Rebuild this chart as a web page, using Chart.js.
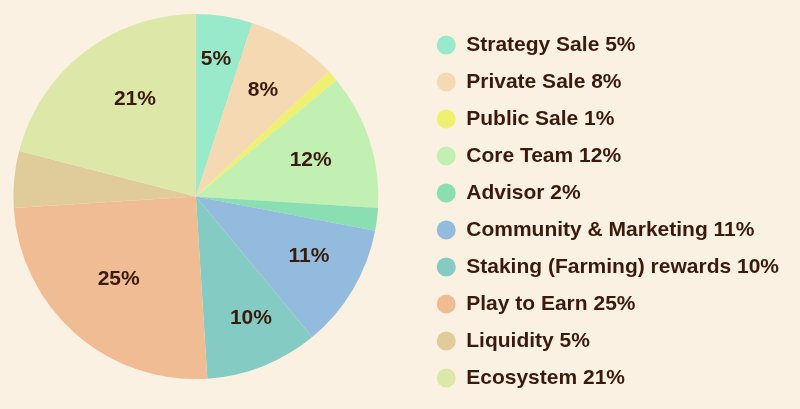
<!DOCTYPE html>
<html>
<head>
<meta charset="utf-8">
<script src="https://cdn.jsdelivr.net/npm/chart.js@4/dist/chart.umd.min.js"></script>
<style>
  html, body { margin: 0; padding: 0; background: #FBF1E2; overflow: hidden; width: 800px; height: 409px; position: relative; }
  #wrap { width: 829px; height: 421px; position: absolute; left: -29px; top: -12px; }
</style>
</head>
<body>
<div id="wrap"><canvas id="c"></canvas></div>
<script>
const categories = ['Strategy Sale', 'Private Sale', 'Public Sale', 'Core Team', 'Advisor',
  'Community & Marketing', 'Staking (Farming) rewards', 'Play to Earn', 'Liquidity', 'Ecosystem'];
const shares = [5, 8, 1, 12, 2, 11, 10, 25, 5, 21];
const sliceLabels = ['5%', '8%', '', '12%', '', '11%', '10%', '25%', '', '21%'];
const colors = ['#98EACB', '#F5D9B2', '#EFEF70', '#C1F0B2', '#89DEB2',
  '#93BBDD', '#84CBC3', '#F0BC93', '#E0CC9A', '#DDE8A8'];

const legendLabels = categories.map((c, i) => c + ' ' + shares[i] + '%');
const textColor = '#3B1A0E';
const fontFamily = '"Liberation Sans", Arial, Helvetica, sans-serif';

const sliceLabelPlugin = {
  id: 'sliceLabels',
  afterDatasetsDraw(chart, args, opts) {
    const ctx = chart.ctx;
    const meta = chart.getDatasetMeta(0);
    ctx.save();
    ctx.font = 'bold 21px ' + fontFamily;
    ctx.fillStyle = textColor;
    ctx.textAlign = 'center';
    ctx.textBaseline = 'middle';
    meta.data.forEach((arc, i) => {
      const txt = sliceLabels[i];
      if (!txt) return;
      const p = arc.getProps(['x', 'y', 'startAngle', 'endAngle', 'outerRadius']);
      const a = (p.startAngle + p.endAngle) / 2 + opts.angleShift[i] * Math.PI / 180;
      const r = p.outerRadius * opts.factors[i];
      ctx.fillText(txt, p.x + Math.cos(a) * r, p.y + Math.sin(a) * r);
    });
    ctx.restore();
  }
};

new Chart(document.getElementById('c'), {
  type: 'pie',
  data: {
    labels: legendLabels,
    datasets: [{
      data: shares,
      backgroundColor: colors,
      borderWidth: 0,
      hoverOffset: 0,
      radius: 182.5
    }]
  },
  options: {
    responsive: true,
    maintainAspectRatio: false,
    animation: false,
    layout: { padding: { left: 0, right: 11, top: 0, bottom: 4 } },
    plugins: {
      tooltip: { enabled: false },
      sliceLabels: {
        factors: [0.76, 0.69, 0.7, 0.66, 0.7, 0.70, 0.73, 0.62, 0.7, 0.63],
        angleShift: [-0.7, -0.2, 0, 0.4, 0, -2.8, -2.8, 1.6, 0, 5.8]
      },
      legend: {
        position: 'right',
        align: 'start',
        title: { display: true, text: '', font: { size: 1, lineHeight: 1 }, padding: { top: 29.5, bottom: 0 } },
        labels: {
          usePointStyle: true,
          pointStyle: 'circle',
          pointStyleWidth: 19,
          boxHeight: 13.5,
          padding: 16,
          color: textColor,
          font: { family: fontFamily, size: 21, weight: 'bold' }
        }
      }
    }
  },
  plugins: [sliceLabelPlugin]
});
</script>
</body>
</html>
